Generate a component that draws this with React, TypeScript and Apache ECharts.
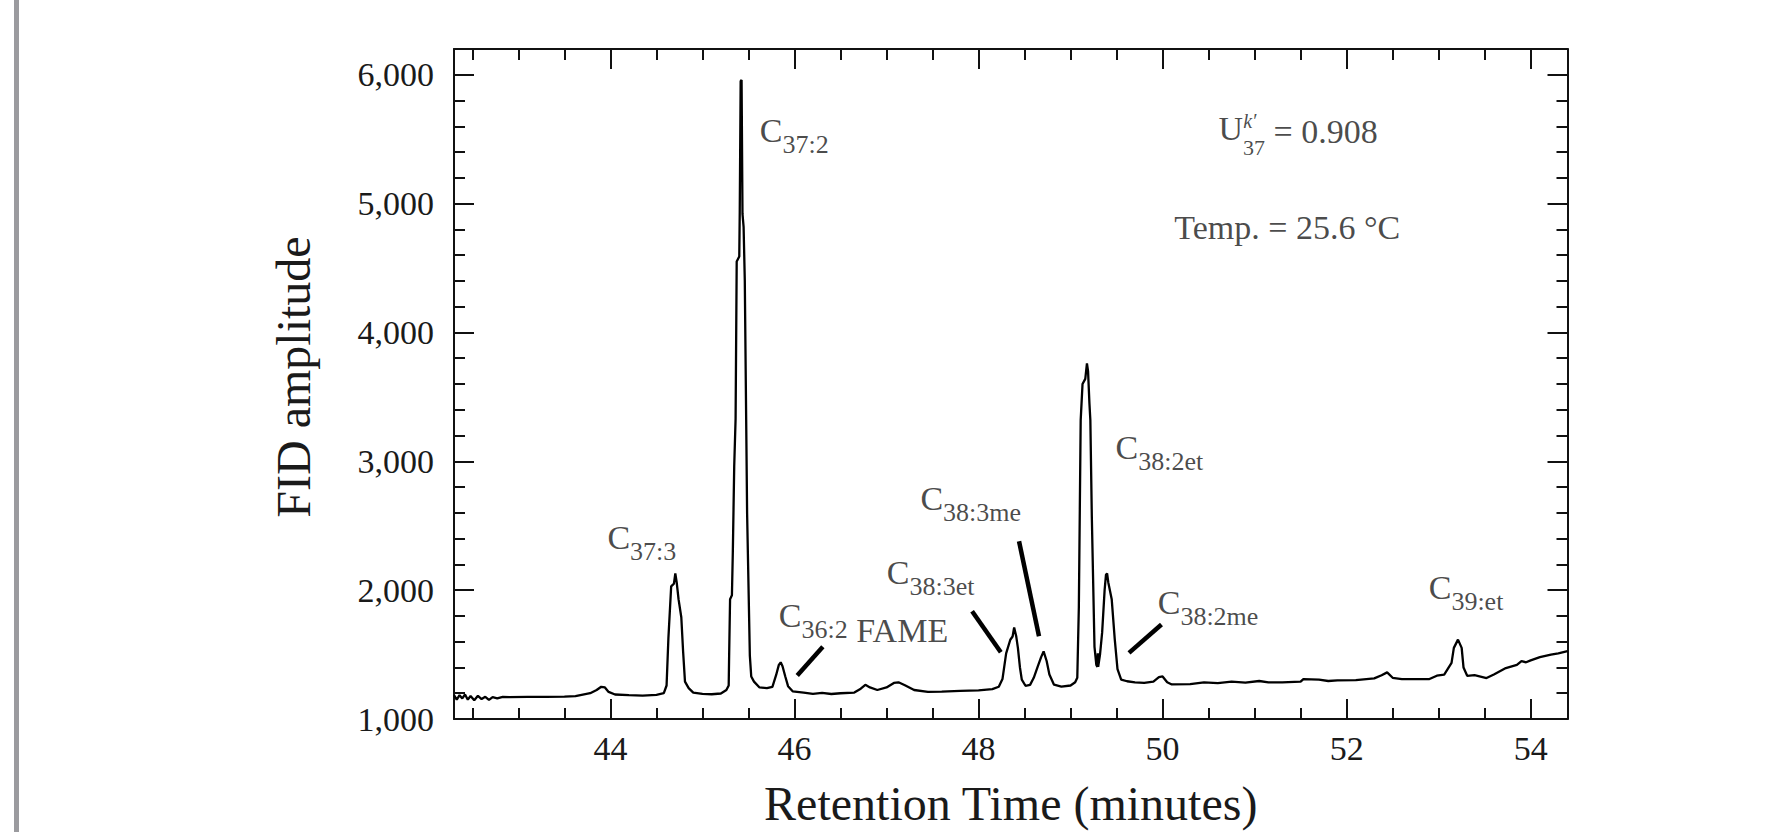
import React, { useEffect, useRef } from "react";
import * as echarts from "echarts";

// Chromatogram trace (retention time in minutes, FID amplitude)
const retentionTime = [
  42.3, 42.33, 42.36, 42.39, 42.42, 42.45, 42.48, 42.52, 42.56, 42.6, 42.64, 42.68, 42.72, 42.77, 42.83, 42.9,
  43.1, 43.3, 43.5, 43.62, 43.7, 43.78, 43.85, 43.9, 43.94, 43.98, 44.05, 44.2, 44.35, 44.5, 44.58, 44.61,
  44.63, 44.66, 44.69, 44.705, 44.72, 44.74, 44.77, 44.79, 44.81, 44.85, 44.9, 45.0, 45.1, 45.2, 45.26, 45.285,
  45.29, 45.3, 45.32, 45.33, 45.345, 45.36, 45.372, 45.4, 45.405, 45.415, 45.425, 45.435, 45.447, 45.46, 45.475, 45.485,
  45.515, 45.53, 45.56, 45.62, 45.7, 45.76, 45.8, 45.83, 45.85, 45.87, 45.9, 45.93, 45.98, 46.1, 46.2, 46.3,
  46.4, 46.5, 46.65, 46.72, 46.77, 46.82, 46.9, 47.0, 47.08, 47.13, 47.2, 47.3, 47.45, 47.6, 47.8, 48.0,
  48.15, 48.22, 48.26, 48.3, 48.345, 48.37, 48.387, 48.41, 48.428, 48.45, 48.47, 48.51, 48.56, 48.6, 48.64, 48.68,
  48.707, 48.74, 48.77, 48.82, 48.9, 49.0, 49.05, 49.073, 49.09, 49.11, 49.13, 49.16, 49.178, 49.19, 49.205, 49.215,
  49.231, 49.26, 49.28, 49.292, 49.296, 49.3, 49.32, 49.343, 49.37, 49.385, 49.397, 49.41, 49.447, 49.48, 49.51, 49.55,
  49.614, 49.7, 49.8, 49.9, 49.96, 50.0, 50.05, 50.1, 50.3, 50.45, 50.6, 50.75, 50.9, 51.05, 51.15, 51.3,
  51.5, 51.53, 51.7, 51.8, 51.9, 52.1, 52.3, 52.38, 52.44, 52.5, 52.6, 52.9, 52.98, 53.06, 53.14, 53.165,
  53.21, 53.25, 53.27, 53.31, 53.39, 53.52, 53.6, 53.73, 53.85, 53.9, 53.95, 54.0, 54.1, 54.22, 54.3, 54.4,
];
const fidAmplitude = [
  1185, 1150, 1185, 1160, 1190, 1150, 1178, 1145, 1180, 1155, 1172, 1148, 1170, 1160, 1172, 1170,
  1172, 1172, 1174, 1178, 1190, 1200, 1225, 1250, 1245, 1210, 1190, 1185, 1182, 1188, 1200, 1260,
  1630, 2030, 2050, 2130, 2060, 1930, 1790, 1520, 1290, 1240, 1205, 1195, 1192, 1198, 1225, 1260,
  1500, 1930, 1960, 2300, 2960, 3330, 4550, 4590, 4930, 5950, 5960, 4920, 4820, 4400, 3320, 2600,
  1490, 1330, 1290, 1245, 1240, 1250, 1340, 1420, 1440, 1410, 1330, 1255, 1215, 1205, 1195, 1202,
  1194, 1200, 1205, 1235, 1265, 1245, 1225, 1245, 1280, 1285, 1262, 1225, 1210, 1212, 1218, 1222,
  1232, 1250, 1310, 1510, 1615, 1640, 1710, 1640, 1550, 1400, 1305, 1258, 1265, 1320, 1400, 1480,
  1525, 1450, 1345, 1266, 1252, 1260, 1285, 1320, 1870, 3320, 3600, 3640, 3760, 3700, 3450, 3320,
  2570, 1560, 1420, 1405, 1510, 1405, 1500, 1670, 2000, 2120, 2130, 2060, 1930, 1620, 1387, 1306,
  1293, 1285, 1280, 1290, 1325, 1330, 1285, 1268, 1270, 1285, 1278, 1290, 1282, 1295, 1285, 1285,
  1290, 1310, 1305, 1295, 1300, 1302, 1315, 1340, 1362, 1320, 1310, 1310, 1336, 1345, 1436, 1552,
  1616, 1552, 1400, 1335, 1340, 1318, 1345, 1395, 1420, 1450, 1440, 1455, 1480, 1500, 1510, 1526,
];

// Axis ticks
const xMajorTicks = [44, 46, 48, 50, 52, 54];
const xMinorTicks = [42.5, 43, 43.5, 44.5, 45, 45.5, 46.5, 47, 47.5, 48.5, 49, 49.5, 50.5, 51, 51.5, 52.5, 53, 53.5];
const yMajorTicks = [1000, 2000, 3000, 4000, 5000, 6000];
const yMinorTicks = [
  1200, 1400, 1600, 1800, 2200, 2400, 2600, 2800, 3200, 3400, 3600, 3800,
  4200, 4400, 4600, 4800, 5200, 5400, 5600, 5800, 6200,
];

// Peak labels: subscript text, anchor (top-left of label) in data units
const peakSubscripts = ["37:2", "37:3", "36:2", "38:3et", "38:3me", "38:2et", "38:2me", "39:et"];
const peakSuffix = ["", "", " FAME", "", "", "", "", ""];
const peakLabelTime = [45.623, 43.967, 45.83, 47.003, 47.368, 49.489, 49.947, 52.892];
const peakLabelAmp = [5699, 2543, 1938, 2272, 2842, 3241, 2039, 2149];

// Leader lines (from, to) in data units
const leaderFromTime = [46.308, 47.93, 48.44, 49.988];
const leaderFromAmp = [1560, 1836, 2379, 1733];
const leaderToTime = [46.03, 48.242, 48.657, 49.635];
const leaderToAmp = [1337, 1518, 1642, 1513];

// Info texts
const ukIndexValue = "0.908";
const ukAnchor = [50.608, 5716];
const ukSuperAnchor = [50.876, 5717];
const tempText = "Temp. = 25.6 °C";
const tempAnchor = [50.128, 4947];

const SERIF = "'Liberation Serif', 'Times New Roman', serif";
const INK = "#1a1a1a";

export default function App() {
  const ref = useRef<HTMLDivElement>(null);

  useEffect(() => {
    if (!ref.current) return;
    const chart = echarts.init(ref.current, undefined, { renderer: "svg" });

    const xMin = 42.3;
    const xMax = 54.4;
    const yMin = 1000;
    const yMax = 6200;
    const axisLineStyle = { color: "#111", width: 2 };

    const xAxisBase = (position: string, ticks: number[], len: number, showLine: boolean, showLabel: boolean, withName: boolean) => ({
      type: "value",
      position,
      offset: 0,
      min: xMin,
      max: xMax,
      axisLine: { show: showLine, onZero: false, lineStyle: axisLineStyle },
      axisTick: { show: true, inside: true, length: len, customValues: ticks, lineStyle: { color: "#111", width: 2 } },
      axisLabel: {
        show: showLabel,
        customValues: ticks,
        margin: 12,
        fontSize: 34,
        fontFamily: SERIF,
        color: INK,
      },
      splitLine: { show: false },
      minorTick: { show: false },
      ...(withName
        ? {
            name: "Retention Time (minutes)",
            nameLocation: "middle",
            nameGap: 60,
            nameTextStyle: { fontSize: 48, fontFamily: SERIF, color: INK },
          }
        : {}),
    });

    const yAxisBase = (position: string, ticks: number[], len: number, showLine: boolean, showLabel: boolean, withName: boolean) => ({
      type: "value",
      position,
      offset: 0,
      min: yMin,
      max: yMax,
      axisLine: { show: showLine, onZero: false, lineStyle: axisLineStyle },
      axisTick: { show: true, inside: true, length: len, customValues: ticks, lineStyle: { color: "#111", width: 2 } },
      axisLabel: {
        show: showLabel,
        customValues: ticks,
        margin: 20,
        fontSize: 34,
        fontFamily: SERIF,
        color: INK,
        formatter: (v: number) => v.toLocaleString("en-US"),
      },
      splitLine: { show: false },
      ...(withName
        ? {
            name: "FID amplitude",
            nameLocation: "middle",
            nameGap: 137,
            nameTextStyle: { fontSize: 48, fontFamily: SERIF, color: INK, padding: [0, 0, 0, 14] },
          }
        : {}),
    });

    const trace = retentionTime.map((t, i) => [t, fidAmplitude[i]]);

    const labelData = peakSubscripts.map((s, i) => ({
      value: [peakLabelTime[i], peakLabelAmp[i]],
      label: {
        formatter: "{c|C}{s|" + s + "}" + (peakSuffix[i] ? "{f|" + peakSuffix[i] + "}" : ""),
      },
    }));
    labelData.push({
      value: ukAnchor,
      label: { formatter: "{c|U}{s2|37}{eq| = " + ukIndexValue + "}" },
    });
    labelData.push({
      value: ukSuperAnchor,
      label: { formatter: "{k|k\u2032}" },
    });
    labelData.push({
      value: tempAnchor,
      label: { formatter: "{c|" + tempText + "}" },
    });

    const leaderData = leaderFromTime.map((t, i) => ({
      coords: [
        [t, leaderFromAmp[i]],
        [leaderToTime[i], leaderToAmp[i]],
      ],
    }));

    const option = {
      animation: false,
      backgroundColor: "#ffffff",
      grid: { left: 454, right: 201.5, top: 49, bottom: 112.5 },
      xAxis: [
        xAxisBase("bottom", xMajorTicks, 20, true, true, true),
        xAxisBase("bottom", xMinorTicks, 11, false, false, false),
        xAxisBase("top", xMajorTicks, 20, true, false, false),
        xAxisBase("top", xMinorTicks, 11, false, false, false),
      ],
      yAxis: [
        yAxisBase("left", yMajorTicks, 20, true, true, true),
        yAxisBase("left", yMinorTicks, 11, false, false, false),
        yAxisBase("right", yMajorTicks, 20, true, false, false),
        yAxisBase("right", yMinorTicks, 11, false, false, false),
      ],
      graphic: [
        {
          type: "rect",
          left: 14,
          top: 0,
          shape: { width: 5, height: 832 },
          style: { fill: "#9b9b9f" },
          silent: true,
        },
      ],
      series: [
        {
          type: "line",
          name: "FID",
          xAxisIndex: 0,
          yAxisIndex: 0,
          data: trace,
          showSymbol: false,
          symbol: "none",
          smooth: false,
          clip: true,
          lineStyle: { color: "#000", width: 2.3 },
          emphasis: { disabled: true },
          silent: true,
          z: 3,
        },
        {
          type: "lines",
          coordinateSystem: "cartesian2d",
          xAxisIndex: 0,
          yAxisIndex: 0,
          data: leaderData,
          symbol: "none",
          lineStyle: { color: "#000", width: 4.5, opacity: 1, curveness: 0 },
          emphasis: { disabled: true },
          silent: true,
          z: 4,
        },
        {
          type: "scatter",
          xAxisIndex: 0,
          yAxisIndex: 0,
          symbolSize: 0,
          itemStyle: { color: "rgba(0,0,0,0)" },
          silent: true,
          emphasis: { disabled: true },
          data: labelData,
          label: {
            show: true,
            position: [0, 0],
            align: "left",
            verticalAlign: "top",
            color: INK,
            fontFamily: SERIF,
            rich: {
              c: { fontSize: 34, lineHeight: 34, verticalAlign: "top", fontFamily: SERIF, color: INK },
              s: { fontSize: 26, lineHeight: 26, padding: [18, 0, 0, 0], verticalAlign: "top", fontFamily: SERIF, color: INK },
              f: { fontSize: 34, lineHeight: 34, padding: [15, 0, 0, 0], verticalAlign: "top", fontFamily: SERIF, color: INK },
              s2: { fontSize: 22, lineHeight: 22, padding: [25, 0, 0, 0], verticalAlign: "top", fontFamily: SERIF, color: INK },
              eq: { fontSize: 34, lineHeight: 34, padding: [3, 0, 0, 0], verticalAlign: "top", fontFamily: SERIF, color: INK },
              k: { fontSize: 20, lineHeight: 20, fontStyle: "italic", verticalAlign: "top", fontFamily: SERIF, color: INK },
            },
          },
          z: 5,
        },
      ],
    };

    chart.setOption(option as any);
    return () => chart.dispose();
  }, []);

  return (
    <div
      ref={ref}
      style={{ position: "fixed", left: 0, top: 0, width: 1769, height: 832, background: "#fff" }}
    />
  );
}
